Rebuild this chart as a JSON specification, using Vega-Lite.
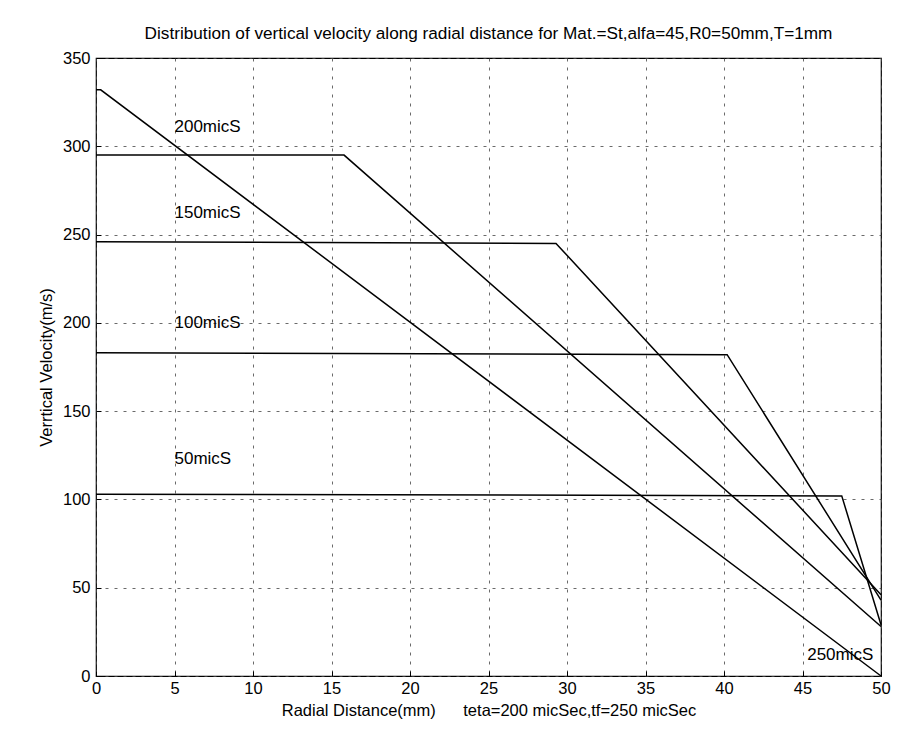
{
  "$schema": "https://vega.github.io/schema/vega-lite/v6.json",
  "autosize": "none",
  "width": 785,
  "height": 618,
  "padding": {"left": 96, "top": 58, "right": 23, "bottom": 73},
  "background": "white",
  "config": {
    "font": "Liberation Sans",
    "view": {"stroke": "black", "strokeWidth": 1.2},
    "axis": {
      "gridColor": "#444",
      "gridDash": [3, 6],
      "gridWidth": 0.8,
      "gridOpacity": 1,
      "domain": false,
      "tickColor": "black",
      "tickSize": -5,
      "labelFlush": false,
      "labelColor": "black",
      "labelFont": "Liberation Sans",
      "labelFontSize": 16.5,
      "titleColor": "black",
      "titleFont": "Liberation Sans",
      "titleFontSize": 16.5,
      "titleFontWeight": "normal"
    }
  },
  "title": {
    "text": "Distribution of vertical velocity along radial distance for Mat.=St,alfa=45,R0=50mm,T=1mm",
    "font": "Liberation Sans",
    "fontSize": 17.2,
    "fontWeight": "normal",
    "color": "black",
    "offset": 8
  },
  "datasets": {
    "lines": [
      {"series": "250micS", "r": 0, "v": 332},
      {"series": "250micS", "r": 0.3, "v": 332},
      {"series": "250micS", "r": 50, "v": 0},
      {"series": "200micS", "r": 0, "v": 295},
      {"series": "200micS", "r": 15.8, "v": 295},
      {"series": "200micS", "r": 50, "v": 28},
      {"series": "150micS", "r": 0, "v": 246},
      {"series": "150micS", "r": 29.3, "v": 245},
      {"series": "150micS", "r": 50, "v": 46},
      {"series": "100micS", "r": 0, "v": 183},
      {"series": "100micS", "r": 40.2, "v": 182},
      {"series": "100micS", "r": 50, "v": 43},
      {"series": "50micS", "r": 0, "v": 103},
      {"series": "50micS", "r": 47.5, "v": 102},
      {"series": "50micS", "r": 50, "v": 29}
    ],
    "labels": [
      {"label": "200micS", "r": 5.0, "v": 311},
      {"label": "150micS", "r": 5.0, "v": 262},
      {"label": "100micS", "r": 5.0, "v": 200},
      {"label": "50micS", "r": 5.0, "v": 123},
      {"label": "250micS", "r": 45.3, "v": 12}
    ]
  },
  "layer": [
    {
      "data": {"name": "lines"},
      "mark": {"type": "line", "color": "black", "strokeWidth": 1.5},
      "encoding": {
        "x": {
          "field": "r",
          "type": "quantitative",
          "scale": {"domain": [0, 50], "nice": false},
          "axis": {
            "values": [0, 5, 10, 15, 20, 25, 30, 35, 40, 45, 50],
            "title": "Radial Distance(mm)\u00a0\u00a0\u00a0\u00a0\u00a0\u00a0teta=200 micSec,tf=250 micSec",
            "titlePadding": 6,
            "labelPadding": 9
          }
        },
        "y": {
          "field": "v",
          "type": "quantitative",
          "scale": {"domain": [0, 350], "nice": false},
          "axis": {
            "values": [0, 50, 100, 150, 200, 250, 300, 350],
            "title": "Verrtical Velocity(m/s)",
            "titlePadding": 8,
            "labelPadding": 11
          }
        },
        "detail": {"field": "series"},
        "order": {"field": "r"}
      }
    },
    {
      "data": {"name": "labels"},
      "mark": {"type": "text", "align": "left", "baseline": "middle", "font": "Liberation Sans", "fontSize": 17, "color": "black"},
      "encoding": {
        "x": {"field": "r", "type": "quantitative"},
        "y": {"field": "v", "type": "quantitative"},
        "text": {"field": "label"}
      }
    }
  ]
}
